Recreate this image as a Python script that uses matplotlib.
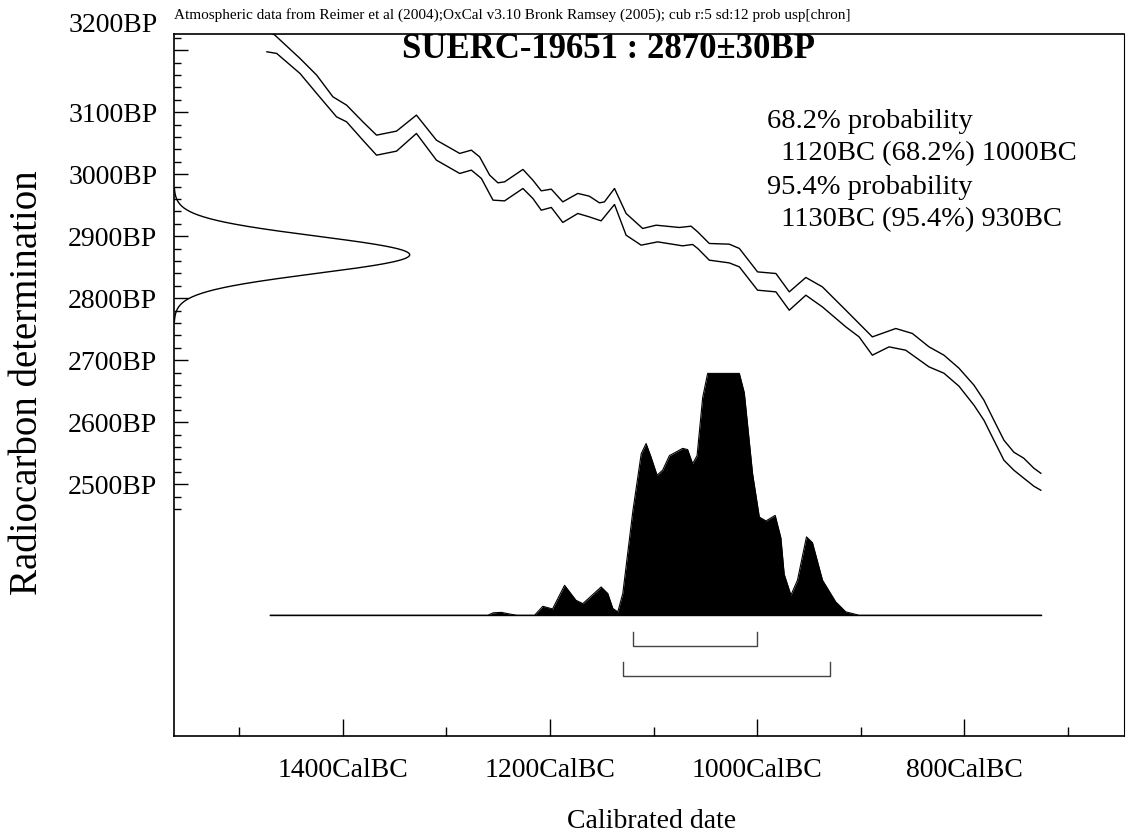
import numpy as np
import matplotlib
matplotlib.use("Agg")
import matplotlib.pyplot as plt
import matplotlib.transforms as mtrans

plt.rcParams['font.family'] = ['Liberation Serif', 'DejaVu Serif']

# ---------------- data ----------------
SAMPLE = "SUERC-19651"
BP_MEAN = 2870
BP_SD = 30

# calibration curve (years BC, radiocarbon BP) : upper and lower 1-sigma envelopes
curve_years = [1473.3, 1465.5, 1441.4, 1425.3, 1409.6, 1396.4, 1380.7, 1367.5, 1348.2, 1329.0,
               1309.7, 1287.2, 1276.0, 1268.0, 1258.3, 1250.3, 1243.9, 1226.2, 1216.6, 1208.5,
               1198.8, 1187.7, 1173.2, 1162.1, 1152.3, 1147.5, 1137.8, 1126.6, 1110.6, 1097.6,
               1075.2, 1063.9, 1057.5, 1046.3, 1027.0, 1017.3, 999.7, 982.0, 969.1, 953.1,
               937.1, 914.5, 888.9, 866.3, 850.3, 834.2, 819.8, 805.3, 790.8, 781.2,
               771.6, 761.9, 752.3, 742.7, 733.0, 726.3]
curve_upper = [3232, 3224, 3186.6, 3159.7, 3124.7, 3111.3, 3084.4, 3062.9, 3069.4, 3095.2,
               3054.8, 3033.4, 3038.7, 3027.9, 2998.4, 2986.0, 2987.6, 3007.6, 2990.3, 2973.1,
               2975.8, 2955.3, 2968.9, 2964.5, 2953.7, 2955.3, 2976.9, 2936.6, 2912.4, 2917.7,
               2914.0, 2916.1, 2906.9, 2888.2, 2887.1, 2880.2, 2842.4, 2839.8, 2810.2, 2833.4,
               2818.2, 2780.6, 2737.6, 2751.1, 2743.1, 2721.5, 2708.1, 2687.1, 2659.7, 2635.5,
               2603.2, 2571.0, 2551.6, 2541.9, 2525.8, 2517.7]

lower_years = [1473.3, 1463.9, 1441.4, 1425.3, 1406.1, 1396.4, 1380.7, 1367.5, 1348.2, 1329.0,
               1309.7, 1287.2, 1276.0, 1266.3, 1255.1, 1243.9, 1226.2, 1216.6, 1208.5, 1198.8,
               1187.7, 1173.2, 1162.1, 1150.7, 1137.8, 1126.6, 1112.1, 1096.1, 1072.0, 1062.4,
               1057.5, 1046.3, 1027.0, 1017.3, 999.7, 982.0, 969.1, 953.1, 937.1, 914.5,
               901.7, 888.9, 872.8, 856.7, 834.2, 819.8, 805.3, 790.8, 781.2, 771.6,
               761.9, 752.3, 742.7, 733.0, 726.3]
curve_lower = [3197.3, 3194.7, 3162.4, 3130.2, 3092.4, 3084.4, 3054.8, 3030.6, 3037.1, 3065.6,
               3022.6, 3001.1, 3006.5, 2993.1, 2958.1, 2956.9, 2976.9, 2960.8, 2941.9, 2946.3,
               2922.1, 2936.6, 2931.1, 2924.7, 2951.1, 2901.6, 2885.5, 2890.8, 2884.4, 2886.6,
               2880.2, 2861.3, 2856.9, 2850.5, 2812.9, 2810.2, 2780.6, 2804.8, 2785.9, 2753.7,
               2737.6, 2708.1, 2721.5, 2716.1, 2689.2, 2679.0, 2658.1, 2627.4, 2603.2, 2571.0,
               2538.7, 2522.6, 2509.7, 2496.8, 2490.3]

# calibrated probability distribution (years BC, relative probability)
post_years = [1470, 1260, 1255, 1247, 1239, 1232, 1215, 1207, 1197.6, 1186, 1175, 1168.4,
              1150.7, 1144.3, 1139.4, 1134.6, 1129.8, 1120, 1112, 1107.3, 1102.5, 1096.7,
              1091.3, 1084.8, 1078.4, 1072, 1067.2, 1062.4, 1058.1, 1052.7, 1047.9, 1017.3,
              1012.5, 1004.5, 998, 991.6, 982.7, 977.2, 974, 967.5, 961.2, 952.5, 946.7,
              937, 924.2, 914.5, 901.7, 726]
post_prob = [0, 0, 0.01, 0.012, 0.005, 0, 0, 0.037, 0.026, 0.124, 0.062, 0.048,
             0.117, 0.09, 0.028, 0.014, 0.09, 0.434, 0.668, 0.71, 0.654, 0.579,
             0.6, 0.66, 0.675, 0.69, 0.685, 0.627, 0.66, 0.9, 1.0, 1.0,
             0.92, 0.585, 0.406, 0.39, 0.413, 0.32, 0.17, 0.083, 0.145, 0.324, 0.30,
             0.145, 0.055, 0.014, 0, 0]

# highest probability ranges (start BC, end BC)
range_68 = (1120, 1000)
range_95 = (1130, 930)

x_tick_years = [1500, 1400, 1300, 1200, 1100, 1000, 900, 800, 700]
x_label_years = [1400, 1200, 1000, 800]
y_label_bp = [3100, 3000, 2900, 2800, 2700, 2600, 2500]

text_lines = ["68.2% probability", "  1120BC (68.2%) 1000BC",
              "95.4% probability", "  1130BC (95.4%) 930BC"]

# ---------------- layout ----------------
W, H = 1129, 839
fig = plt.figure(figsize=(W / 100, H / 100), dpi=100)
L, R, T, B = 174, 1124, 34, 736
ax = fig.add_axes([L / W, 1 - B / H, (R - L) / W, (B - T) / H])

XMIN, XMAX = -1563, -646
YMIN, YMAX = 2094, 3226
ax.set_xlim(XMIN, XMAX)
ax.set_ylim(YMIN, YMAX)

lw = 1.0
# calibration curve
ax.plot([-y for y in curve_years], curve_upper, color='black', lw=lw)
ax.plot([-y for y in lower_years], curve_lower, color='black', lw=lw)

# radiocarbon date distribution on the y axis
bp = np.linspace(BP_MEAN - 3.6 * BP_SD, BP_MEAN + 3.6 * BP_SD, 300)
dens = np.exp(-0.5 * ((bp - BP_MEAN) / BP_SD) ** 2)
AMP = 227.5
ax.plot(XMIN + AMP * dens, bp, color='black', lw=lw)

# posterior distribution
BASE = 2288.7
HEIGHT = 390
px = np.array([-y for y in post_years])
py = BASE + HEIGHT * np.array(post_prob)
ax.fill_between(px, BASE, py, color='black', lw=0)
ax.plot(px, py, color='black', lw=0.8)
ax.plot([px[0], px[-1]], [BASE, BASE], color='black', lw=lw)

# range brackets
for (a, b), yb in ((range_68, 2238.7), (range_95, 2190.3)):
    h = 22.6
    ax.plot([-a, -a, -b, -b], [yb + h, yb, yb, yb + h], color='#444444', lw=1.0)

# ticks
ax.set_xticks([-y for y in x_tick_years])
ax.set_xticklabels([f"{y}CalBC" if y in x_label_years else "" for y in x_tick_years])
ax.tick_params(axis='x', direction='in', width=1.0, length=6.5, pad=16, labelsize=20)
for t, y in zip(ax.xaxis.get_major_ticks(), x_tick_years):
    if y in x_label_years:
        t.tick1line.set_markersize(12.2)

yt = list(range(2460, 3221, 20))
ax.set_yticks(yt)
ax.set_yticklabels([f"{v}BP" if v in y_label_bp else "" for v in yt])
ax.tick_params(axis='y', direction='in', width=1.0, length=5, pad=12, labelsize=20)
for t, v in zip(ax.yaxis.get_major_ticks(), yt):
    if v % 100 == 0:
        t.tick1line.set_markersize(10)
ax.tick_params(top=False, right=False)

ax.text(0, 3240, "3200BP",
        transform=ax.get_yaxis_transform() + mtrans.ScaledTranslation(-12 / 72, 0, fig.dpi_scale_trans),
        ha='right', va='center', fontsize=20, clip_on=False)

for s in ax.spines.values():
    s.set_linewidth(1.2)
ax.spines['right'].set_linewidth(0.8)

# labels
fig.text(652 / W, 1 - 821 / H, "Calibrated date", ha='center', va='center', fontsize=20)
fig.text(28 / W, 1 - 383 / H, "Radiocarbon determination", ha='center', va='center',
         rotation=90, fontsize=28)
fig.text(609 / W, 1 - 50 / H, f"{SAMPLE} : {BP_MEAN}\u00b1{BP_SD}BP", ha='center', va='center',
         fontsize=25, fontweight='bold')
fig.text(174 / W, 1 - 15 / H,
         "Atmospheric data from Reimer et al (2004);OxCal v3.10 Bronk Ramsey (2005); cub r:5 sd:12 prob usp[chron]",
         ha='left', va='center', fontsize=11)
for i, line in enumerate(text_lines):
    fig.text(767 / W, 1 - (121 + 33 * i) / H, line, ha='left', va='center', fontsize=20.5)

fig.savefig("out.png", dpi=100)
